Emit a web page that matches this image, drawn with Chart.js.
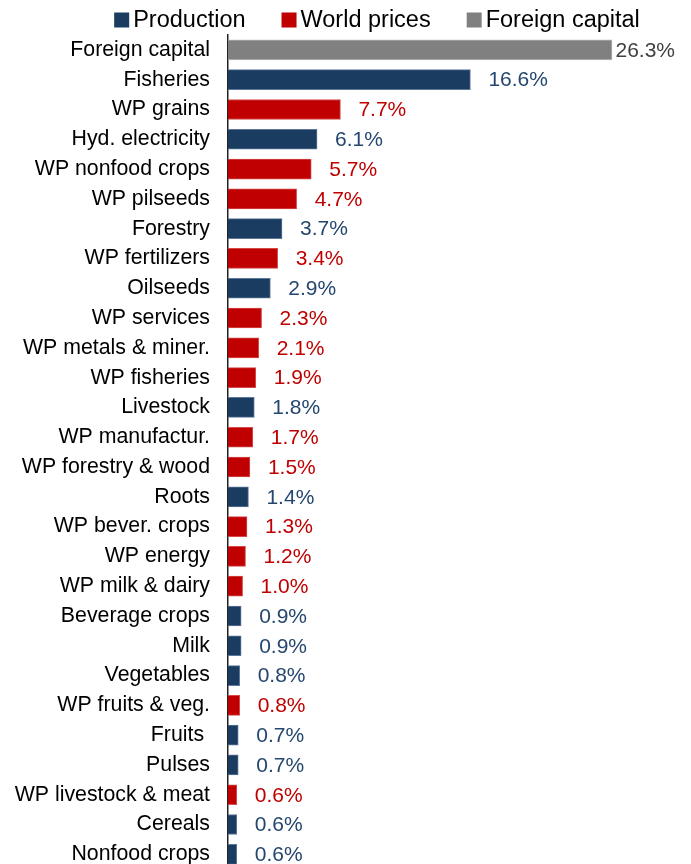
<!DOCTYPE html>
<html>
<head>
<meta charset="utf-8">
<script src="https://cdn.jsdelivr.net/npm/chart.js@4.4.1/dist/chart.umd.min.js"></script>
<style>
  html, body { margin: 0; padding: 0; background: #fff; overflow: hidden; }
  #wrap { position: relative; width: 691px; height: 900px; }
</style>
</head>
<body>
<div id="wrap"><canvas id="chart"></canvas></div>
<script>
// category labels, top to bottom
const categories = [
    'Foreign capital', 'Fisheries', 'WP grains', 'Hyd. electricity', 'WP nonfood crops',
    'WP pilseeds', 'Forestry', 'WP fertilizers', 'Oilseeds', 'WP services',
    'WP metals & miner.', 'WP fisheries', 'Livestock', 'WP manufactur.', 'WP forestry & wood',
    'Roots', 'WP bever. crops', 'WP energy', 'WP milk & dairy', 'Beverage crops',
    'Milk', 'Vegetables', 'WP fruits & veg.', 'Fruits ', 'Pulses',
    'WP livestock & meat', 'Cereals', 'Nonfood crops'
];
const values = [
    26.3, 16.6, 7.7, 6.1, 5.7,
    4.7, 3.7, 3.4, 2.9, 2.3,
    2.1, 1.9, 1.8, 1.7, 1.5,
    1.4, 1.3, 1.2, 1.0, 0.9,
    0.9, 0.8, 0.8, 0.7, 0.7,
    0.6, 0.6, 0.6
];
// P = Production, W = World prices, F = Foreign capital
const groups = [
    'F', 'P', 'W', 'P', 'W',
    'W', 'P', 'W', 'P', 'W',
    'W', 'W', 'P', 'W', 'W',
    'P', 'W', 'W', 'W', 'P',
    'P', 'P', 'W', 'P', 'P',
    'W', 'P', 'P'
];
const seriesKeys = ['P', 'W', 'F'];
const seriesNames = ['Production', 'World prices', 'Foreign capital'];
const barColors = ['#1a3c61', '#c00000', '#808080'];
const edgeColors = ['#5d7799', '#d44a4a', '#b8b8b8'];
const labelColors = ['#25476f', '#c00000', '#404040'];

const FONT = "'Liberation Sans', Arial, sans-serif";

const datasets = seriesKeys.map((key, i) => ({
    label: seriesNames[i],
    data: values.map((v, j) => groups[j] === key ? v : null),
    backgroundColor: barColors[i],
    borderColor: edgeColors[i],
    borderWidth: 1,
    borderSkipped: 'left',
    barThickness: 20,
    grouped: false
}));

// value labels at the end of each bar
const valueLabels = {
    id: 'valueLabels',
    afterDatasetsDraw(chart) {
        const ctx = chart.ctx;
        ctx.save();
        ctx.font = '21px ' + FONT;
        ctx.textBaseline = 'middle';
        ctx.textAlign = 'left';
        chart.data.datasets.forEach((ds, i) => {
            const meta = chart.getDatasetMeta(i);
            meta.data.forEach((bar, j) => {
                if (ds.data[j] == null) return;
                const text = ds.data[j].toFixed(1) + '%';
                const w = ctx.measureText(text).width;
                const x = Math.min(bar.x + 18, chart.width - 16 - w);
                ctx.fillStyle = labelColors[i];
                ctx.fillText(text, x, bar.y + 1);
            });
        });
        ctx.restore();
    }
};

// legend row across the top
const topLegend = {
    id: 'topLegend',
    afterDraw(chart) {
        const ctx = chart.ctx;
        ctx.save();
        ctx.font = '23.5px ' + FONT;
        ctx.textBaseline = 'middle';
        const box = 15, gap = 4, spacing = 36;
        const widths = seriesNames.map(n => ctx.measureText(n).width);
        const total = widths.reduce((a, b) => a + b, 0) + seriesNames.length * (box + gap) + spacing * (seriesNames.length - 1);
        let x = 377 - total / 2;
        const y = 20;
        seriesNames.forEach((name, i) => {
            ctx.fillStyle = barColors[i];
            ctx.fillRect(x, y - box / 2, box, box);
            x += box + gap;
            ctx.fillStyle = '#000';
            ctx.fillText(name, x, y + 1);
            x += widths[i] + spacing;
        });
        ctx.restore();
    }
};

new Chart(document.getElementById('chart'), {
    type: 'bar',
    data: { labels: categories, datasets: datasets },
    options: {
        indexAxis: 'y',
        responsive: true,
        maintainAspectRatio: false,
        animation: false,
        layout: { padding: { top: 35, left: 0, right: 0, bottom: 0 } },
        scales: {
            x: {
                display: false,
                min: 0,
                max: 31.71
            },
            y: {
                grid: { display: false, drawTicks: false },
                border: { display: true, color: '#222', width: 1.5 },
                ticks: {
                    color: '#000',
                    padding: 18,
                    autoSkip: false,
                    font: { size: 21.3, family: FONT }
                },
                afterFit(scale) { scale.width = 228; }
            }
        },
        plugins: {
            legend: { display: false },
            tooltip: { enabled: false }
        }
    },
    plugins: [valueLabels, topLegend]
});
</script>
</body>
</html>
